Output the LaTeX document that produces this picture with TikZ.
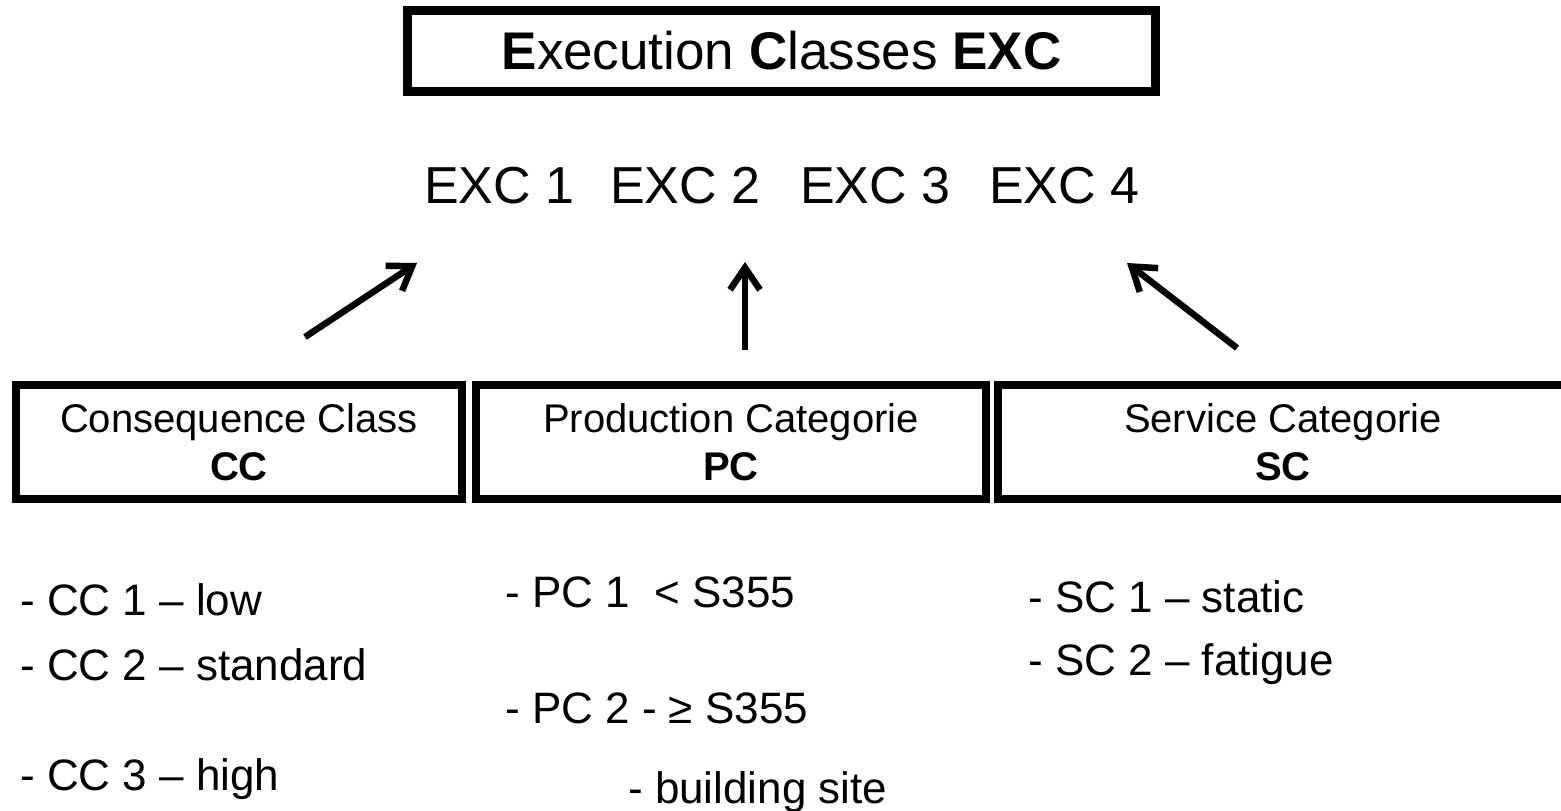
\documentclass[tikz,border=0pt]{standalone}
\usepackage{fontspec}
\setmainfont{Liberation Sans}
\usetikzlibrary{arrows.meta}
\begin{document}
\begin{tikzpicture}[x=1pt,y=-1pt,
  titlebox/.style={draw, line width=9pt, minimum width=748pt, minimum height=81pt, inner sep=0pt, font=\fontsize{53}{64}\selectfont},
  catbox/.style={draw, line width=8pt, minimum height=114pt, inner sep=0pt, align=center, font=\fontsize{40}{48}\selectfont},
  exclabel/.style={anchor=base west, inner sep=0pt, font=\fontsize{52}{62}\selectfont},
  listitem/.style={anchor=base west, inner sep=0pt, font=\fontsize{44}{53}\selectfont},
  arr/.style={line width=6.5pt, line join=miter, -{Straight Barb[length=22pt,width=30pt]}}]
\useasboundingbox (0,0) rectangle (1561,811);
\clip (0,0) rectangle (1561,811);
\fill[white] (0,0) rectangle (1561,811);

\node[titlebox] (title) at (781.5,51) {\textbf{E}xecution \textbf{C}lasses \textbf{EXC}};

\node[exclabel] (exc1) at (424,203) {EXC 1};
\node[exclabel] (exc2) at (610,203) {EXC 2};
\node[exclabel] (exc3) at (800,203) {EXC 3};
\node[exclabel] (exc4) at (989,203) {EXC 4};

\node[catbox, minimum width=446pt] (cc) at (239,442) {Consequence Class\\\textbf{CC}};
\node[catbox, minimum width=510pt] (pc) at (731,442) {Production Categorie\\\textbf{PC}};
\node[catbox, minimum width=570pt] (sc) at (1283,442) {Service Categorie\\\textbf{SC}};

\coordinate (a1s) at (305,337);
\coordinate (a1e) at (417,263);
\coordinate (a2s) at (745,350);
\coordinate (a2e) at (745,262);
\coordinate (a3s) at (1237,348);
\coordinate (a3e) at (1127,263);
\draw[arr] (a1s) -- (a1e);
\draw[arr] (a2s) -- (a2e);
\draw[arr] (a3s) -- (a3e);

\node[listitem] (cc1) at (20,615) {- CC 1 – low};
\node[listitem] (cc2) at (20,680) {- CC 2 – standard};
\node[listitem] (cc3) at (20,790) {- CC 3 – high};

\node[listitem] (pc1) at (505,607) {- PC 1 \ < S355};
\node[listitem] (pc2) at (505,723) {- PC 2 - ≥ S355};
\node[listitem] (pc3) at (628,803) {- building site};

\node[listitem] (sc1) at (1028,612) {- SC 1 – static};
\node[listitem] (sc2) at (1028,675) {- SC 2 – fatigue};
\end{tikzpicture}
\end{document}
